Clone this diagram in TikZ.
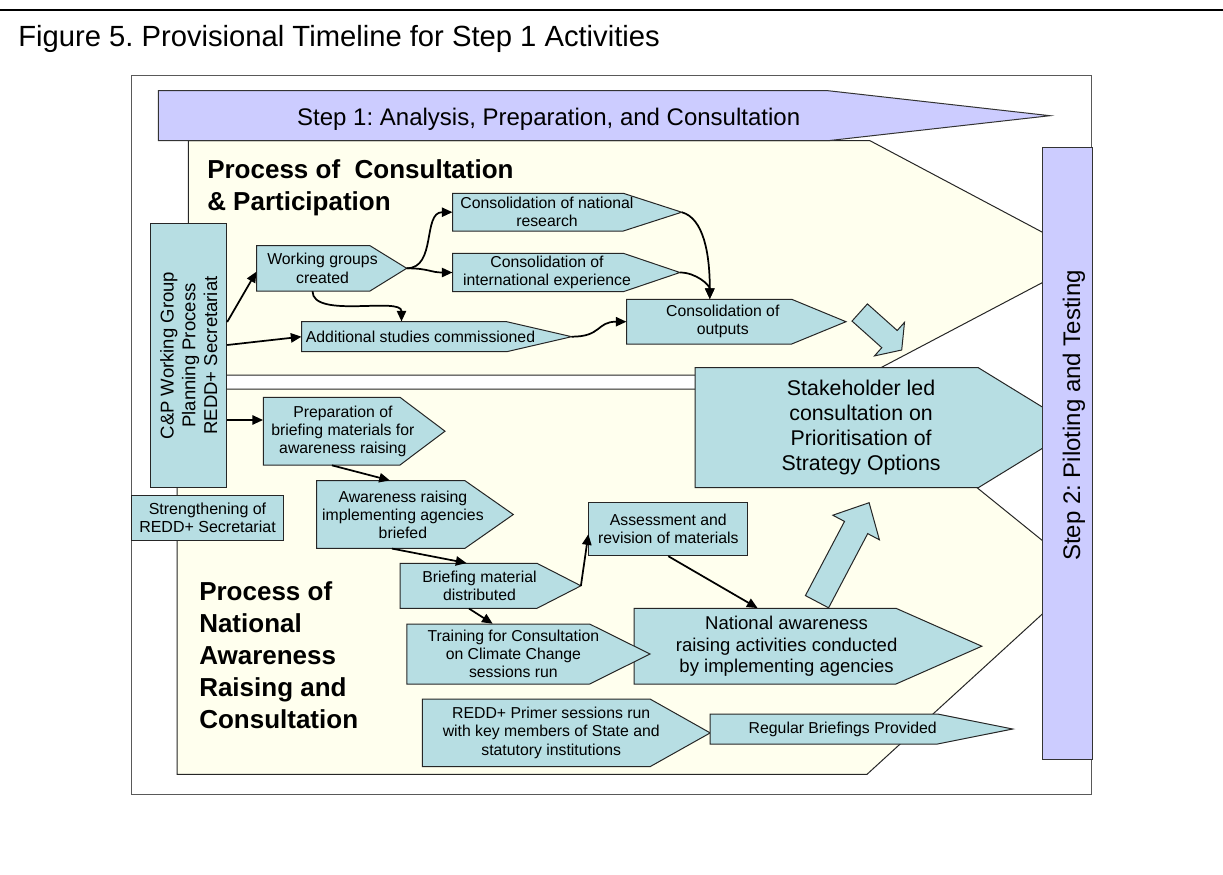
\documentclass[tikz,border=0pt]{standalone}
\usepackage{fontspec}
\setmainfont{Liberation Sans}
\usetikzlibrary{arrows.meta, calc}
\frenchspacing

\definecolor{boxblue}{RGB}{183,222,227}
\definecolor{steplilac}{RGB}{204,204,255}
\definecolor{creamfill}{RGB}{255,255,238}

\begin{document}
\begin{tikzpicture}[x=0.75pt,y=0.75pt,yscale=-1,xscale=1,
  pent/.style={draw=black!85, fill=boxblue, line width=0.75pt},
  band/.style={draw=black!85, fill=creamfill, line width=0.75pt},
  stepfill/.style={draw=black!80, fill=steplilac, line width=0.75pt},
  area/.style 2 args={minimum width=#1*0.75pt, minimum height=#2*0.75pt, inner sep=0pt, align=center},
  small/.style={font=\fontsize{11.85pt}{13.6pt}\selectfont},
  mid/.style={font=\fontsize{13.9pt}{16.3pt}\selectfont},
  big/.style={font=\fontsize{16pt}{18.75pt}\selectfont},
  steptext/.style={font=\fontsize{18pt}{21pt}\selectfont, inner sep=0pt},
  head/.style={anchor=north west, inner sep=0pt, align=left, font=\bfseries\fontsize{19.5pt}{24pt}\selectfont},
  arr/.style={-{Triangle[length=8pt,width=7pt]}, line width=1.3pt}]
\useasboundingbox (0,0) rectangle (1223,874);

%Straight Lines (page rule)
\draw [line width=1.9pt]   (0,10) -- (1223,10) ;
% Text Node
\node [anchor=base west, inner sep=0pt, font=\fontsize{21.9pt}{26pt}\selectfont] (title) at (18,46.7) {Figure 5. Provisional Timeline for Step 1 Activities};

%Shape: Rectangle (frame)
\draw [draw=black!65, line width=0.9pt]   (131.7,75.7) rectangle (1091.7,794.3) ;

%Shape: Pentagon (consultation band)
\draw [band]   (188.3,140.7) -- (870,140.7) -- (1090,257.5) -- (867,375) -- (188.3,375) -- cycle ;
%Shape: Pentagon (awareness band)
\draw [band]   (177,389) -- (855,389) -- (1085,575) -- (867,774.3) -- (177,774.3) -- cycle ;

%Shape: Pentagon (step 1)
\draw [stepfill]   (158.3,90.7) -- (828,90.7) -- (1050,115.7) -- (828,140.7) -- (158.3,140.7) -- cycle ;
% Text Node
\node [steptext, anchor=base] (step1) at (548.7,125) {Step 1: Analysis, Preparation, and Consultation};

%Shape: Rectangle
\node [pent, area={76}{264.4}] (cp) at (188.7,355.5) {};
% Text Node
\node [mid, rotate=90, align=center, inner sep=0pt] (cptext) at (188.7,355.5) {C\&P Working Group\\Planning Process\\REDD+ Secretariat};
%Shape: Rectangle
\node [pent, area={151.6}{45}, font=\fontsize{12pt}{13.8pt}\selectfont] (strength) at (207.5,517.5) {Strengthening of\\REDD+ Secretariat};

% Text Node
\node [head] (consulthead) at (207,159) {Process of\ \ Consultation\\\& Participation};
% Text Node
\node [head] (awarehead) at (199,581) {Process of\\National\\Awareness\\Raising and\\Consultation};

%Shape: Pentagon
\draw [pent]   (452.7,193.3) -- (623.3,193.3) -- (681.7,212.2) -- (623.3,231) -- (452.7,231) -- cycle ;
\coordinate (natres-tip) at (681.7,212.2);
\node [small, area={188.6}{37.7}] (natres) at (547,212.2) {Consolidation of national\\research};
%Shape: Pentagon
\draw [pent]   (452.7,253.3) -- (623.3,253.3) -- (680,272.5) -- (623.3,291.7) -- (452.7,291.7) -- cycle ;
\coordinate (intl-tip) at (680,272.5);
\node [small, area={188.6}{38.4}] (intl) at (547,272.5) {Consolidation of\\international experience};
%Shape: Pentagon
\draw [pent]   (626.7,299.3) -- (791.7,299.3) -- (846,321.7) -- (791.7,344) -- (626.7,344) -- cycle ;
\node [small, area={192.2}{44.7}] (outputs) at (722.8,321.7) {Consolidation of\\outputs};
%Shape: Pentagon
\draw [pent]   (256.7,245.7) -- (370,245.7) -- (406.7,268.3) -- (370,291) -- (256.7,291) -- cycle ;
\coordinate (wg-tip) at (406.7,268.3);
\node [small, area={131.7}{45.3}] (wg) at (322.5,268.3) {Working groups\\created};
%Shape: Pentagon
\draw [pent]   (301.7,321.7) -- (506.7,321.7) -- (571.7,336.7) -- (506.7,351.7) -- (301.7,351.7) -- cycle ;
\coordinate (add-tip) at (571.7,336.7);
\node [small, area={237.5}{30}] (add) at (420.5,336.7) {Additional studies commissioned};

%Shape: Pentagon
\draw [pent]   (263.3,397.3) -- (400,397.3) -- (445,431.2) -- (400,465) -- (263.3,465) -- cycle ;
\node [small, area={159.2}{67.7}] (prep) at (342.9,431.2) {Preparation of\\briefing materials for\\awareness raising};
%Shape: Pentagon
\draw [pent]   (316.7,480.7) -- (465,480.7) -- (513.3,514.5) -- (465,548.3) -- (316.7,548.3) -- cycle ;
\node [small, area={172.5}{67.6}] (aware) at (402.9,514.5) {Awareness raising\\implementing agencies\\briefed};
%Shape: Pentagon
\draw [pent]   (400,563.3) -- (537,563.3) -- (580.9,585.8) -- (537,608.3) -- (400,608.3) -- cycle ;
\coordinate (brief-tip) at (580.9,585.8);
\node [small, area={159}{45}] (brief) at (479.5,585.8) {Briefing material\\distributed};
%Shape: Rectangle
\node [pent, small, area={158.9}{53}] (assess) at (668.3,529.2) {Assessment and\\revision of materials};
%Shape: Pentagon
\draw [pent]   (634.2,608.3) -- (896,608.3) -- (981.8,646.2) -- (896,684) -- (634.2,684) -- cycle ;
\node [mid, area={304.7}{75.7}] (natl) at (786.6,646.2) {National awareness\\raising activities conducted\\by implementing agencies};
%Shape: Pentagon
\draw [pent]   (406.9,624) -- (589.6,624) -- (650,654) -- (589.6,684) -- (406.9,684) -- cycle ;
\node [small, area={212.9}{60}] (train) at (513.4,654) {Training for Consultation\\on Climate Change\\sessions run};
%Shape: Pentagon
\draw [pent]   (422.3,699) -- (650,699) -- (710.2,732.9) -- (650,766.7) -- (422.3,766.7) -- cycle ;
\node [small, area={257.8}{67.7}] (primer) at (551.2,732.9) {REDD+ Primer sessions run\\with key members of State and\\statutory institutions};
%Shape: Pentagon
\draw [pent]   (710.2,714) -- (937.5,714) -- (1012.7,729) -- (937.5,744) -- (710.2,744) -- cycle ;
\node [small, area={264.9}{30}] (regular) at (842.7,729) {Regular Briefings Provided};

%Shape: Pentagon
\draw [pent]   (695,367.7) -- (978.3,367.7) -- (1076,427.7) -- (978.3,487.7) -- (695,487.7) -- cycle ;
\node [big, area={332.2}{120}] (stake) at (861.1,427.7) {Stakeholder led\\consultation on\\Prioritisation of\\Strategy Options};

%Shape: Block Arrow
\draw [pent]   (852,321.1) -- (867.4,303.9) -- (897.2,330.5) -- (904.5,322.3) -- (901.7,350) -- (874.5,355.9) -- (881.8,347.7) -- cycle ;
%Shape: Block Arrow
\draw [pent]   (805.4,595.6) -- (844.5,521.4) -- (832.8,515.2) -- (869.1,502.7) -- (879.4,539.8) -- (867.7,533.6) -- (828.6,607.8) -- cycle ;

%Shape: Rectangle (step 2)
\node [stepfill, area={50}{612.3}] (step2) at (1067.5,453.2) {};
% Text Node
\node [steptext, rotate=90, anchor=base] (step2text) at (1080,415.5) {Step 2: Piloting and Testing};

%Straight Lines
\draw [arr]   ($(cp.east)+(0,-33.5)$) -- ($(wg.west)+(0,3.4)$) ;
\draw [arr]   ($(cp.east)+(0,-10.5)$) -- (add.west) ;
\coordinate (prepin) at ($(prep.west)+(0,-11.2)$);
\draw [arr]   (cp.east |- prepin) -- (prepin) ;
%Curve Lines
\draw [arr]   (wg-tip) .. controls ($(wg-tip)+(30,0)$) and ($(natres.west)+(-30,0)$) .. (natres.west) ;
\draw [arr]   (wg-tip) .. controls ($(wg-tip)+(22,0)$) and ($(intl.west)+(-22,0)$) .. (intl.west) ;
\draw [arr]   ($(wg.south)+(-10,0)$) .. controls ($(wg.south)+(-10,28)$) and ($(add.north)+(-19,-25)$) .. ($(add.north)+(-19,0)$) ;
\draw [arr]   (add-tip) .. controls ($(add-tip)+(30,0)$) and ($(outputs.west)+(-30,0)$) .. (outputs.west) ;
\draw [arr]   (natres-tip) .. controls ($(natres-tip)+(22,6)$) and ($(outputs.north)+(-13,-45)$) .. ($(outputs.north)+(-13,0)$) ;
\draw [arr]   (intl-tip) .. controls ($(intl-tip)+(16,0)$) and ($(outputs.north)+(-13,-14)$) .. ($(outputs.north)+(-13,0)$) ;
%Straight Lines
\draw [arr]   ($(prep.south)+(-11,0)$) -- ($(aware.north)+(-13,0)$) ;
\draw [arr]   ($(aware.south)+(-11,0)$) -- ($(brief.north)+(-13,0)$) ;
\draw [arr]   ($(brief.south)+(-10.5,0)$) -- ($(train.north)+(-20.7,0)$) ;
\draw [arr]   (brief-tip) -- ($(assess.south west)+(0,-22)$) ;
\draw [arr]   (assess.south) -- ($(natl.north)+(-29,0)$) ;

\end{tikzpicture}
\end{document}
